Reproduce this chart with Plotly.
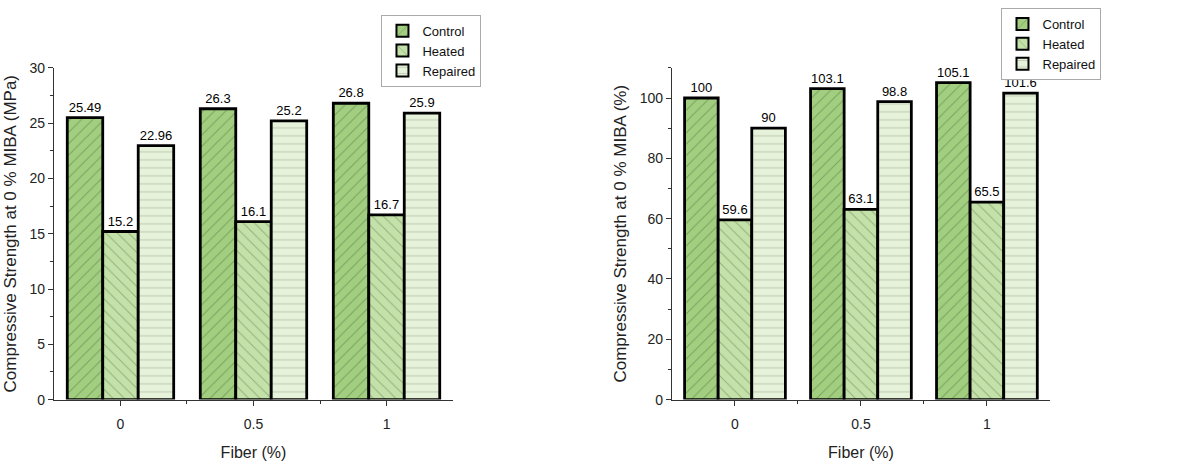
import plotly.graph_objects as go

categories = ["0", "0.5", "1"]
series_names = ["Control", "Heated", "Repaired"]
mpa_control = [25.49, 26.3, 26.8]
mpa_heated = [15.2, 16.1, 16.7]
mpa_repaired = [22.96, 25.2, 25.9]
pct_control = [100, 103.1, 105.1]
pct_heated = [59.6, 63.1, 65.5]
pct_repaired = [90, 98.8, 101.6]

fills = ["#a2cf7f", "#c4e1a9", "#e7f2da"]
pat_fg = ["#4f7040", "#5d7f4c", "#8c9c84"]
shapes = ["/", "\\", "-"]
FONT = "Liberation Sans, Arial, sans-serif"

xpos = list(range(len(categories)))
fig = go.Figure()

left = [mpa_control, mpa_heated, mpa_repaired]
right = [pct_control, pct_heated, pct_repaired]

for i, name in enumerate(series_names):
    for side, data in (("L", left), ("R", right)):
        fig.add_trace(go.Bar(
            x=xpos, y=data[i], name=name,
            xaxis="x" if side == "L" else "x2",
            yaxis="y" if side == "L" else "y2",
            legend="legend" if side == "L" else "legend2",
            marker=dict(color=fills[i],
                        line=dict(color="black", width=2.8),
                        pattern=dict(shape=shapes[i], fgcolor=pat_fg[i],
                                     bgcolor=fills[i], size=8, solidity=0.12,
                                     fillmode="overlay")),
            text=[str(v) for v in data[i]], textposition="outside",
            textfont=dict(family=FONT, size=13, color="black"),
            cliponaxis=False,
        ))

axis_common = dict(showline=True, linecolor="#333", linewidth=1.2,
                   ticks="outside", tickcolor="#333", ticklen=5,
                   tickfont=dict(family=FONT, size=14, color="#222"),
                   showgrid=False, zeroline=False)

xt_font = dict(family=FONT, size=16, color="#222")
yt_font = dict(family=FONT, size=17, color="#222")

fig.update_layout(
    width=1181, height=461,
    margin=dict(l=0, r=0, t=0, b=0),
    paper_bgcolor="white", plot_bgcolor="white",
    barmode="group", bargap=0.2, bargroupgap=0,
    xaxis=dict(domain=[0.0457, 0.3836], range=[-0.5, 2.5],
               tickvals=xpos, ticktext=categories, anchor="y", ticklabelstandoff=6,
               minor=dict(tickvals=[0.5, 1.5], ticklen=3, ticks="outside", tickcolor="#333"),
               title=dict(text="Fiber (%)", font=xt_font, standoff=16),
               **axis_common),
    yaxis=dict(domain=[0.12, 0.8655], range=[0, 30], dtick=5, anchor="x",
               minor=dict(dtick=2.5, ticklen=3, ticks="outside", tickcolor="#333"),
               title=dict(text="Compressive Strength at 0 % MIBA (MPa)", font=yt_font, standoff=8),
               **axis_common),
    xaxis2=dict(domain=[0.569, 0.889], range=[-0.5, 2.5],
                tickvals=xpos, ticktext=categories, anchor="y2", ticklabelstandoff=6,
                minor=dict(tickvals=[0.5, 1.5], ticklen=3, ticks="outside", tickcolor="#333"),
                title=dict(text="Fiber (%)", font=xt_font, standoff=16),
                **axis_common),
    yaxis2=dict(domain=[0.12, 0.8655], range=[0, 110], tickvals=[0, 20, 40, 60, 80, 100], anchor="x2",
                minor=dict(dtick=10, ticklen=3, ticks="outside", tickcolor="#333"),
                title=dict(text="Compressive Strength at 0 % MIBA (%)", font=yt_font, standoff=8),
                **axis_common),
    legend=dict(x=0.323, y=0.985, xanchor="left", yanchor="top",
                bordercolor="#aaa", borderwidth=1, bgcolor="white",
                font=dict(family=FONT, size=13, color="#111"),
                tracegroupgap=0, itemsizing="constant"),
    legend2=dict(x=0.848, y=1.0, xanchor="left", yanchor="top",
                 bordercolor="#aaa", borderwidth=1, bgcolor="white",
                 font=dict(family=FONT, size=13, color="#111"),
                 tracegroupgap=0, itemsizing="constant"),
)

fig.write_html("out.html")
